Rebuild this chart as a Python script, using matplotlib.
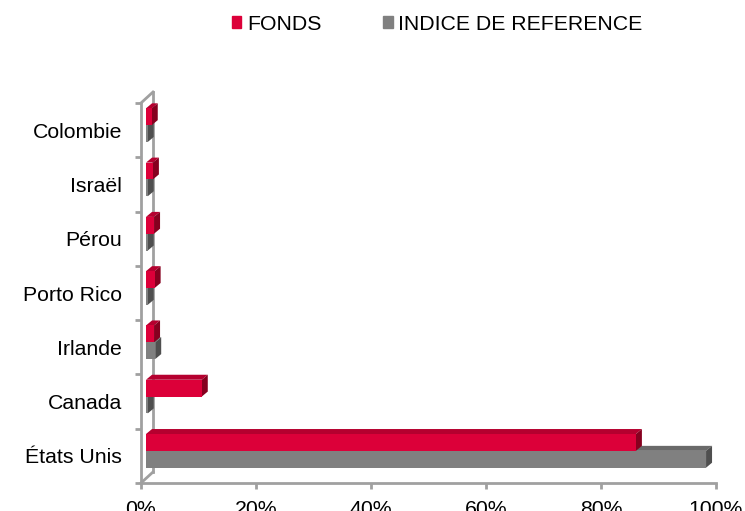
import matplotlib
matplotlib.use('Agg')
import matplotlib.pyplot as plt
import numpy as np
from matplotlib.patches import Polygon, Patch
from matplotlib.transforms import ScaledTranslation

plt.rcParams['font.family'] = ['Liberation Sans', 'DejaVu Sans']

countries = ['États Unis', 'Canada', 'Irlande', 'Porto Rico', 'Pérou', 'Israël', 'Colombie']
fonds = [85.2, 9.7, 1.4, 1.5, 1.4, 1.2, 1.0]
indice = [97.4, 0.3, 1.6, 0.3, 0.3, 0.3, 0.3]

red, red_top, red_side = '#DC0039', '#B5002F', '#86001F'
grey, grey_top, grey_side = '#808080', '#6A6A6A', '#4F4F4F'
axis_col = '#A0A0A0'
fs = 15.3

W, H = 745, 511
fig = plt.figure(figsize=(W / 100, H / 100), dpi=100)
left, right, bottom, top = 141 / W, 716 / W, 28 / H, 408 / H
ax = fig.add_axes([left, bottom, right - left, top - bottom])
ax.set_xlim(0, 100)
ax.set_ylim(-0.5, len(countries) - 0.5)

# pixel -> data units
px_x = 100 / ((right - left) * W)
px_y = len(countries) / ((top - bottom) * H)
front_dx, front_dy = 5 * px_x, 5 * px_y     # bars sit a bit inside the 3d box
depth_dx, depth_dy = 6 * px_x, 5 * px_y     # depth of each bar

y = np.arange(len(countries))
h = 0.31


def bars3d(vals, ybase, front, topc, side):
    for yy, v in zip(ybase, vals):
        x0 = front_dx
        x1 = front_dx + v
        y0 = yy + front_dy
        y1 = y0 + h
        ax.barh(y0, v, height=h, left=x0, align='edge', color=front, zorder=3)
        ax.add_patch(Polygon([(x0, y1), (x0 + depth_dx, y1 + depth_dy),
                              (x1 + depth_dx, y1 + depth_dy), (x1, y1)],
                             closed=True, color=topc, lw=0, zorder=2))
        ax.add_patch(Polygon([(x1, y0), (x1 + depth_dx, y0 + depth_dy),
                              (x1 + depth_dx, y1 + depth_dy), (x1, y1)],
                             closed=True, color=side, lw=0, zorder=2))


bars3d(indice, y - h, grey, grey_top, grey_side)
bars3d(fonds, y, red, red_top, red_side)

# 3d wall lines
wall = ScaledTranslation(12 / 100, 11 / 100, fig.dpi_scale_trans)
ax.plot([0, 0], [0, 1], transform=ax.transAxes + wall, color=axis_col, lw=2, clip_on=False, zorder=1)
ax.plot([0, 12 * px_x], [len(countries) - 0.5, len(countries) - 0.5 + 11 * px_y],
        color=axis_col, lw=2, clip_on=False, zorder=1)
ax.plot([0, 12 * px_x], [-0.5, -0.5 + 11 * px_y],
        color=axis_col, lw=2, clip_on=False, zorder=1)

for s in ['top', 'right']:
    ax.spines[s].set_visible(False)
for s in ['left', 'bottom']:
    ax.spines[s].set_color(axis_col)
    ax.spines[s].set_linewidth(2)

ax.set_xticks(np.arange(0, 101, 20))
ax.set_xticklabels([f'{v}%' for v in range(0, 101, 20)])
ax.set_yticks(np.arange(-0.5, len(countries), 1))
ax.set_yticklabels([])
ax.set_yticks(y, minor=True)
ax.set_yticklabels(countries, minor=True)
ax.tick_params(axis='y', which='major', length=4, width=2, color=axis_col)
ax.tick_params(axis='y', which='minor', length=0, pad=13.5, labelsize=fs)
ax.tick_params(axis='x', length=4, width=2, color=axis_col, pad=8, labelsize=fs)

handles = [Patch(color=red, label='FONDS'), Patch(color=grey, label='INDICE DE REFERENCE')]
fig.legend(handles=handles, loc='center', bbox_to_anchor=(0.587, 0.953), ncol=2,
           frameon=False, fontsize=fs, handlelength=0.44, handleheight=0.44,
           handletextpad=0.28, columnspacing=2.9)

plt.savefig('out.png', dpi=100)
